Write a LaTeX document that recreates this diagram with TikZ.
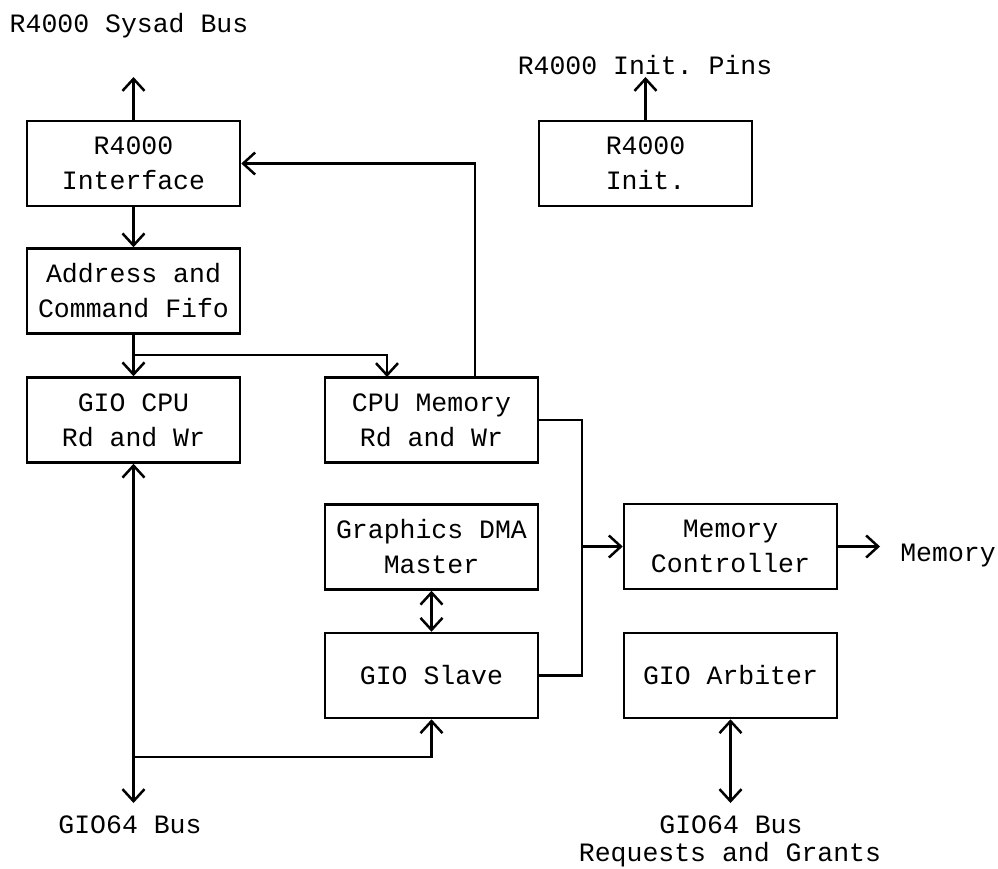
\documentclass[tikz,border=0pt]{standalone}
\usepackage{fontspec}
\setmonofont{Liberation Mono}
\usetikzlibrary{arrows.meta,calc}
\begin{document}
\begin{tikzpicture}[x=1pt,y=-1pt,
  every node/.style={font=\ttfamily\fontsize{26.5}{35}\selectfont},
  blk/.style={draw,line width=2.5pt,minimum width=213pt,minimum height=85pt,align=center,inner sep=0pt},
  lbl/.style={inner sep=0pt,anchor=base},
  conn/.style={line width=2.5pt},
  arr/.style={conn,-{Straight Barb[length=12pt,width=22pt,line width=2.5pt]}},
  darr/.style={conn,{Straight Barb[length=12pt,width=22pt,line width=2.5pt]}-{Straight Barb[length=12pt,width=22pt,line width=2.5pt]}}]
\useasboundingbox (0,0) rectangle (998,868);
% blocks
\node[blk] (iface) at (133.5,163.5) {R4000\\Interface};
\node[blk] (fifo)  at (133.5,291)   {Address and\\Command Fifo};
\node[blk] (gcpu)  at (133.5,420)   {GIO CPU\\Rd and Wr};
\node[blk] (cmem)  at (431.5,420)   {CPU Memory\\Rd and Wr};
\node[blk] (init)  at (645.5,163.5) {R4000\\Init.};
\node[blk] (dma)   at (431.5,547)   {Graphics DMA\\Master};
\node[blk] (slave) at (431.5,675.5) {GIO Slave};
\node[blk] (memc)  at (730.5,546.5) {Memory\\Controller};
\node[blk] (arb)   at (730.5,675.5) {GIO Arbiter};
% labels
\node[lbl] (lsysad) at (129,32) {R4000 Sysad Bus};
\node[lbl] (linit)  at (645,74) {R4000 Init. Pins};
\node[lbl] (lmem)   at (948,561) {Memory};
\node[lbl] (lgio1)  at (130,833) {GIO64 Bus};
\node[lbl] (lgio2)  at (731,833) {GIO64 Bus};
\node[lbl] (lreq)   at (730,861) {Requests and Grants};
% coordinates
\coordinate (sysad) at (133.5,77);
\coordinate (pins) at (645.5,77);
\coordinate (memout) at (880,546.5);
\coordinate (gioL) at (133.5,803);
\coordinate (gioR) at (730.5,803);
\coordinate (split) at (133.5,355);
\coordinate (cmemin) at (387,377);
\coordinate (fb) at (475,377);
\coordinate (bus) at (582,420);
\coordinate (gjoin) at (133.5,757);
% connectors
\draw[arr] (iface.north) -- (sysad);
\draw[arr] (init.north) -- (pins);
\draw[arr] (iface.south) -- (fifo.north);
\draw[arr] (fifo.south) -- (gcpu.north);
\draw[arr] (split) -| (cmemin);
\draw[arr] (fb) |- (iface.east);
\draw[conn] (cmem.east) -| (slave.east -| bus) -- (slave.east);
\draw[arr] (memc.west -| bus) -- (memc.west);
\draw[arr] (memc.east) -- (memout);
\draw[darr] (dma.south) -- (slave.north);
\draw[darr] (arb.south) -- (gioR);
\draw[darr] (gcpu.south) -- (gioL);
\draw[arr] (gjoin) -| (slave.south);
\end{tikzpicture}
\end{document}
